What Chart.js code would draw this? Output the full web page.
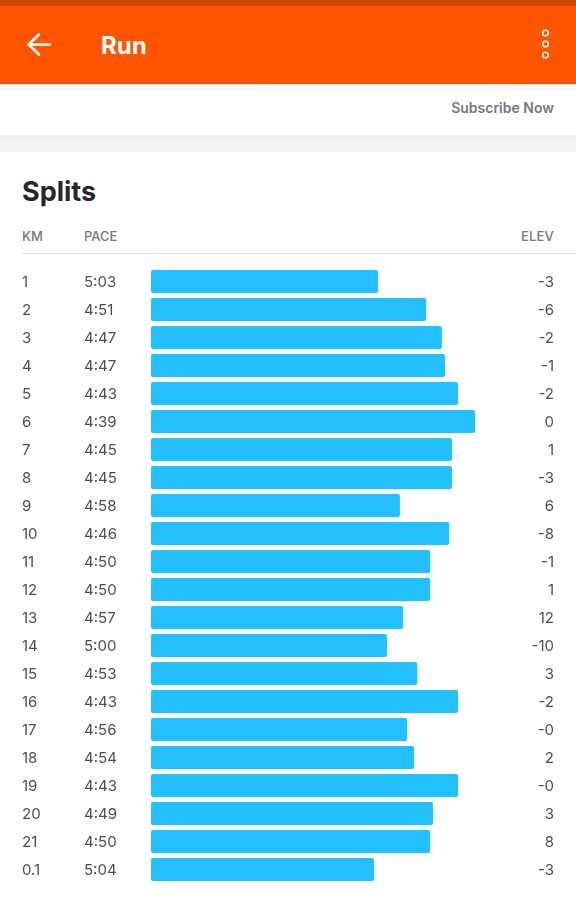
<!DOCTYPE html>
<html>
<head>
<meta charset="utf-8">
<title>Run</title>
<script src="https://cdn.jsdelivr.net/npm/chart.js@4"></script>
<style>
    html, body { margin: 0; padding: 0; background: #fff; overflow: hidden; }
    body { width: 576px; height: 909px; position: relative; font-family: Inter, "Noto Sans", sans-serif; }
    .abs { position: absolute; }
    .status { left: 0; top: 0; width: 576px; height: 6px; background: #cf4200; }
    .appbar { left: 0; top: 6px; width: 576px; height: 78px; background: #ff5500; }
    .shadow { left: 0; top: 84px; width: 576px; height: 4px; background: linear-gradient(#eceef1, #fff); }
    .stripe1 { left: 0; top: 135px; width: 576px; height: 5px; background: #eef0f6; }
    .stripe2 { left: 0; top: 140px; width: 576px; height: 12px; background: #f5f5f8; }
    .title { left: 101px; top: 32px; font-size: 24px; line-height: 28px; font-weight: 700; color: #fff; }
    .subscribe { right: 22px; top: 99px; font-size: 14px; line-height: 18px; font-weight: 600; color: #767680; }
    .splits { left: 22px; top: 175px; font-size: 27px; line-height: 34px; font-weight: 700; color: #26262c; }
    .head { top: 228px; font-size: 13px; line-height: 16px; font-weight: 500; color: #767680; }
    .rule { left: 22px; top: 253px; width: 554px; height: 1px; background: #dfe2e2; }
    #splitsChart { position: absolute; left: 0; top: 253px; }
</style>
</head>
<body>
    <div class="abs status"></div>
    <div class="abs appbar"></div>
    <div class="abs shadow"></div>
    <svg class="abs" style="left:0;top:0" width="576" height="84">
        <path d="M29 44.5 H50 M39 34.5 L28.5 44.5 L39 54.5" fill="none" stroke="#fff" stroke-width="2.6" stroke-linecap="round" stroke-linejoin="round"/>
        <circle cx="545.5" cy="33" r="2.8" fill="none" stroke="#fff" stroke-width="1.6"/>
        <circle cx="545.5" cy="44" r="2.8" fill="none" stroke="#fff" stroke-width="1.6"/>
        <circle cx="545.5" cy="55" r="2.8" fill="none" stroke="#fff" stroke-width="1.6"/>
    </svg>
    <div class="abs title">Run</div>
    <div class="abs subscribe">Subscribe Now</div>
    <div class="abs stripe1"></div>
    <div class="abs stripe2"></div>
    <div class="abs splits">Splits</div>
    <div class="abs head" style="left:22px">KM</div>
    <div class="abs head" style="left:84px">PACE</div>
    <div class="abs head" style="right:22px;letter-spacing:0.2px">ELEV</div>
    <div class="abs rule"></div>
    <canvas id="splitsChart" width="576" height="656" style="width:576px;height:656px"></canvas>

<script>
// values
const kmLabels = ['1', '2', '3', '4', '5', '6', '7', '8', '9', '10', '11', '12', '13', '14', '15', '16', '17', '18', '19', '20', '21', '0.1'];
const paceLabels = ['5:03', '4:51', '4:47', '4:47', '4:43', '4:39', '4:45', '4:45', '4:58', '4:46', '4:50', '4:50', '4:57', '5:00', '4:53', '4:43', '4:56', '4:54', '4:43', '4:49', '4:50', '5:04'];
const elevLabels = ['-3', '-6', '-2', '-1', '-2', '0', '1', '-3', '6', '-8', '-1', '1', '12', '-10', '3', '-2', '-0', '2', '-0', '3', '8', '-3'];
// pace in seconds per km, as the bars show it
const paceSeconds = [303, 291.1, 287.2, 286.4, 283.2, 279, 284.7, 284.7, 297.6, 285.4, 290.1, 290.1, 296.8, 300.8, 293.3, 283.2, 295.8, 294.1, 283.2, 289.4, 290.1, 304];

const slowEnd = 359.2;
const fastEnd = 265.4;

// KM, PACE and ELEV columns, placed on the rows of the y scale
const rowLabels = {
    id: 'rowLabels',
    afterDatasetsDraw(chart) {
        const { ctx, scales: { y } } = chart;
        ctx.save();
        ctx.font = '400 15px Inter';
        ctx.fillStyle = '#4c4c55';
        ctx.textBaseline = 'middle';
        kmLabels.forEach((km, i) => {
            const rowY = y.getPixelForValue(i) + 1;
            ctx.textAlign = 'left';
            ctx.fillText(km, 22, rowY);
            ctx.fillText(paceLabels[i], 84, rowY);
            ctx.textAlign = 'right';
            ctx.fillText(elevLabels[i], 554, rowY);
        });
        ctx.restore();
    }
};

new Chart(document.getElementById('splitsChart'), {
    type: 'bar',
    data: {
        labels: kmLabels,
        datasets: [{
            data: paceSeconds,
            base: slowEnd,
            backgroundColor: '#22c0ff',
            borderRadius: 2,
            borderSkipped: false,
            categoryPercentage: 1,
            barPercentage: 0.82
        }]
    },
    options: {
        indexAxis: 'y',
        responsive: false,
        animation: false,
        layout: { padding: { left: 151, right: 46, top: 14.5, bottom: 25.5 } },
        plugins: { legend: { display: false }, tooltip: { enabled: false } },
        scales: {
            x: { display: false, reverse: true, min: fastEnd, max: slowEnd },
            y: { display: false, offset: true }
        }
    },
    plugins: [rowLabels]
});
</script>
</body>
</html>
